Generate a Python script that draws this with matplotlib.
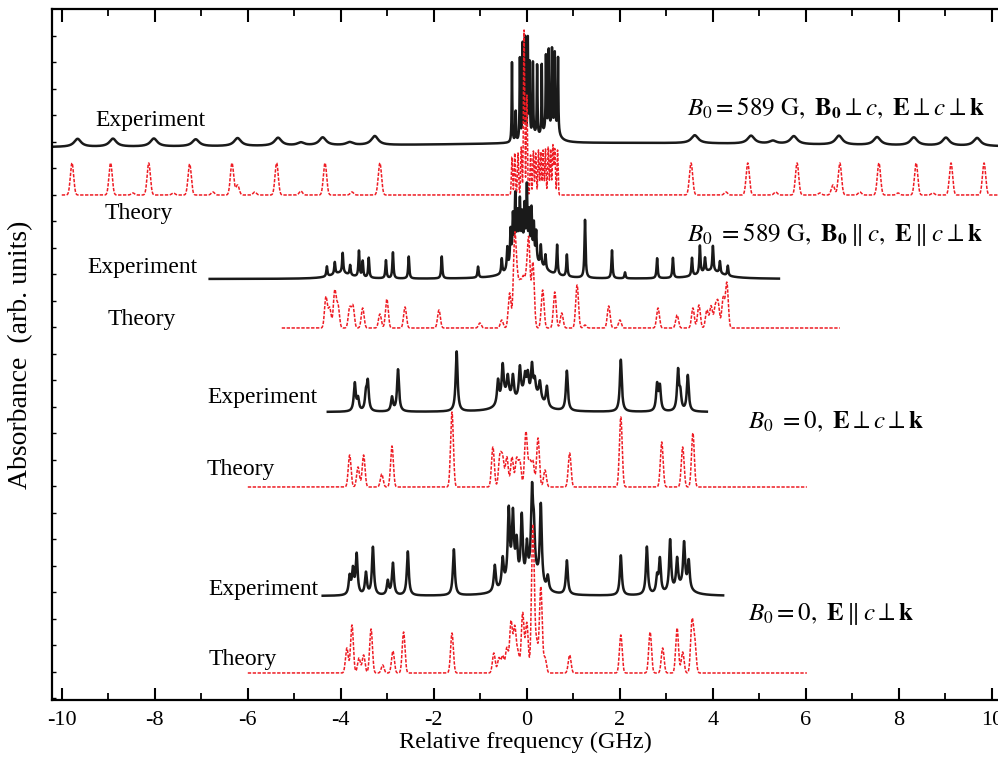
import numpy as np
import matplotlib
matplotlib.use("Agg")
import matplotlib.pyplot as plt

plt.rcParams['font.family'] = ['Liberation Serif', 'DejaVu Serif']
plt.rcParams['mathtext.fontset'] = 'stix'

# peak positions (GHz) and heights (arb.)
# B0 = 589 G, perpendicular
exp1_pos = [-9.66, -8.90, -8.02, -7.12, -6.22, -5.35, -4.86, -4.39, -3.81, -3.27,
            3.61, 4.82, 5.29, 5.74, 6.71, 7.53, 8.32, 9.01, 9.68]
exp1_amp = [8, 8, 8, 7, 8, 8, 3, 8, 3, 9,
            8, 8, 3, 8, 9, 8, 8, 8, 8]
exp1_core_pos = [-0.32, -0.24, -0.15, -0.09, -0.04, 0.02, 0.06, 0.13, 0.22, 0.32,
                 0.41, 0.47, 0.54, 0.60, 0.67]
exp1_core_amp = [80, 30, 82, 95, 100, 98, 72, 72, 70, 70, 74, 78, 80, 74, 74]
exp1_broad_pos = [2.0, 0.15, 0.45, 0.62]
exp1_broad_amp = [5, 6, 11, 11]
exp1_broad_wid = [6.0, 0.12, 0.12, 0.08]

th1_pos = [-9.78, -8.95, -8.47, -8.13, -7.60, -7.25, -6.75, -6.34, -6.22, -5.85,
           -5.38, -4.86, -4.34, -3.76, -3.16,
           3.53, 4.28, 4.75, 5.35, 5.81, 6.30, 6.58, 6.73, 7.16, 7.57, 7.98, 8.37,
           8.73, 9.12, 9.83]
th1_amp = [32, 32, 2, 32, 2, 31, 3, 32, 10, 3, 32, 4, 32, 3, 32,
           32, 3, 32, 3, 32, 2, 10, 32, 3, 32, 2, 32, 2, 32, 32]
th1_core_pos = [-0.32, -0.26, -0.19, -0.12, -0.06, 0.0, 0.08, 0.14, 0.19, 0.25,
                0.30, 0.35, 0.40, 0.46, 0.51, 0.56, 0.60, 0.66]
th1_core_amp = [38, 42, 42, 48, 165, 100, 40, 44, 42, 45, 43, 45, 46, 48, 46, 50, 46, 45]

# B0 = 589 G, parallel
exp2_pos = [-4.30, -4.13, -3.96, -3.80, -3.61, -3.53, -3.40, -3.03, -2.88, -2.54,
            -1.83, -1.05, -0.54, -0.42, -0.35, -0.30, -0.25, -0.20, -0.15, -0.10,
            -0.05, 0.0, 0.05, 0.10, 0.15, 0.20, 0.30, 0.40, 0.65, 0.86, 1.25,
            1.83, 2.11, 2.80, 3.14, 3.55, 3.72, 3.83, 4.00, 4.15, 4.32]
exp2_amp = [10, 12, 20, 10, 26, 16, 20, 18, 26, 22,
            22, 11, 15, 22, 35, 45, 62, 40, 52, 38,
            48, 70, 45, 50, 36, 30, 20, 14, 30, 22, 58,
            28, 6, 20, 20, 18, 28, 14, 25, 12, 10]
exp2_broad_pos = [-4.0, -0.15, 0.25, 3.95]
exp2_broad_amp = [6, 18, 10, 8]
exp2_broad_wid = [0.25, 0.2, 0.25, 0.3]

th2_pos = [-4.32, -4.24, -4.13, -4.06, -3.81, -3.74, -3.53, -3.16, -3.01, -2.62,
           -1.89, -1.01, -0.54, -0.37, -0.26, -0.20, -0.14, -0.08, -0.02, 0.04,
           0.13, 0.34, 0.60, 0.75, 1.08, 1.25, 1.76, 2.00, 2.82, 3.23, 3.57,
           3.70, 3.87, 3.96, 4.05, 4.11, 4.22, 4.30]
th2_amp = [31, 20, 37, 22, 20, 22, 20, 14, 29, 21,
           18, 5, 8, 35, 90, 40, 38, 42, 40, 85,
           65, 38, 36, 15, 43, 3, 22, 8, 20, 13, 20,
           23, 18, 22, 20, 25, 30, 45]

# B0 = 0, E perpendicular
exp3_pos = [-3.70, -3.63, -3.46, -3.42, -2.90, -2.77, -1.51, -0.62, -0.52, -0.41,
            -0.30, -0.15, -0.04, 0.02, 0.11, 0.17, 0.28, 0.43, 0.86, 2.02,
            2.80, 2.86, 3.25, 3.30, 3.46]
exp3_amp = [28, 12, 16, 28, 14, 42, 60, 24, 34, 20,
            24, 30, 18, 20, 32, 16, 16, 20, 40, 52,
            26, 24, 40, 16, 36]
exp3_broad_pos = [-0.45, -0.05, 0.25]
exp3_broad_amp = [12, 14, 10]
exp3_broad_wid = [0.15, 0.18, 0.12]

th3_pos = [-3.81, -3.63, -3.51, -3.12, -2.90, -1.61, -0.73, -0.58, -0.52, -0.43,
           -0.32, -0.22, -0.15, -0.02, 0.06, 0.13, 0.24, 0.39, 0.92, 2.02,
           2.90, 3.35, 3.57]
th3_amp = [32, 20, 32, 13, 41, 75, 40, 30, 28, 30,
           30, 28, 25, 55, 25, 25, 49, 17, 34, 70,
           45, 40, 54]

# B0 = 0, E parallel
exp4_pos = [-3.81, -3.74, -3.66, -3.46, -3.31, -2.99, -2.88, -2.56, -1.57, -0.69,
            -0.52, -0.39, -0.30, -0.22, -0.11, 0.0, 0.11, 0.15, 0.30, 0.45,
            0.86, 2.02, 2.58, 2.80, 2.86, 3.08, 3.23, 3.38, 3.48]
exp4_amp = [18, 24, 40, 22, 48, 14, 32, 44, 46, 26,
            28, 70, 62, 35, 65, 35, 80, 40, 80, 14,
            34, 40, 48, 16, 34, 52, 30, 44, 28]
exp4_broad_pos = [-0.3, 0.15, 3.35]
exp4_broad_amp = [14, 16, 8]
exp4_broad_wid = [0.2, 0.15, 0.2]

th4_pos = [-3.87, -3.76, -3.61, -3.51, -3.35, -3.10, -2.88, -2.65, -1.61, -0.71,
           -0.60, -0.52, -0.43, -0.34, -0.26, -0.19, -0.09, 0.0, 0.13, 0.21,
           0.30, 0.39, 0.92, 2.02, 2.65, 2.92, 3.23, 3.35, 3.55, 3.61]
th4_amp = [25, 48, 15, 18, 44, 8, 22, 41, 40, 20,
           15, 17, 25, 51, 45, 20, 60, 50, 148, 30,
           86, 15, 18, 38, 41, 25, 45, 21, 50, 30]

labels_exp = ["Experiment"] * 4
labels_th = ["Theory"] * 4
conditions = [
    r"$B_0 = 589\ \mathrm{G},\ \mathbf{B_0} \perp c,\ \mathbf{E} \perp c \perp \mathbf{k}$",
    r"$B_0\ = 589\ \mathrm{G},\ \mathbf{B_0} \parallel c,\ \mathbf{E} \parallel c \perp \mathbf{k}$",
    r"$B_0\ = 0,\ \mathbf{E} \perp c \perp \mathbf{k}$",
    r"$B_0 = 0,\ \mathbf{E} \parallel c \perp \mathbf{k}$",
]


def lorentz(x, pos, amp, wid):
    y = np.zeros_like(x)
    for p, a in zip(pos, amp):
        y += a / (1 + ((x - p) / wid) ** 2)
    return y


def lorentz_w(x, pos, amp, wids):
    y = np.zeros_like(x)
    for p, a, w in zip(pos, amp, wids):
        y += a / (1 + ((x - p) / w) ** 2)
    return y


def gauss(x, pos, amp, wid):
    y = np.zeros_like(x)
    for p, a in zip(pos, amp):
        y += a * np.exp(-0.5 * ((x - p) / wid) ** 2)
    return y


fig = plt.figure(figsize=(9.98, 7.67), dpi=100)
ax = fig.add_axes([52 / 998, 1 - 700 / 767, 946 / 998, 691 / 767])

black = '#1a1a1a'
red = '#ee1c24'
dash = (0, (2.2, 1.0))

# experiment 1 (full range)
x = np.linspace(-10.25, 10.2, 24000)
y = (lorentz(x, exp1_pos, exp1_amp, 0.09) + lorentz(x, exp1_core_pos, exp1_core_amp, 0.008)
     + lorentz_w(x, exp1_broad_pos, exp1_broad_amp, exp1_broad_wid))
ax.plot(x, 552 + y, color=black, lw=1.8)

x = np.linspace(-10.0, 10.2, 24000)
y = gauss(x, th1_pos, th1_amp, 0.035) + gauss(x, th1_core_pos, th1_core_amp, 0.013)
ax.plot(x, 505 + y, color=red, lw=1.1, ls=dash)

x = np.linspace(-6.82, 5.42, 12000)
y = lorentz(x, exp2_pos, exp2_amp, 0.014) + lorentz_w(x, exp2_broad_pos, exp2_broad_amp, exp2_broad_wid)
ax.plot(x, 421 + y, color=black, lw=1.8)

x = np.linspace(-5.27, 6.73, 12000)
y = gauss(x, th2_pos, th2_amp, 0.03)
ax.plot(x, 372 + y, color=red, lw=1.1, ls=dash)

x = np.linspace(-4.28, 3.87, 9000)
y = lorentz(x, exp3_pos, exp3_amp, 0.025) + lorentz_w(x, exp3_broad_pos, exp3_broad_amp, exp3_broad_wid)
ax.plot(x, 288 + y, color=black, lw=1.8)

x = np.linspace(-6.0, 6.02, 12000)
y = gauss(x, th3_pos, th3_amp, 0.03)
ax.plot(x, 213 + y, color=red, lw=1.1, ls=dash)

x = np.linspace(-4.39, 4.22, 9000)
y = lorentz(x, exp4_pos, exp4_amp, 0.025) + lorentz_w(x, exp4_broad_pos, exp4_broad_amp, exp4_broad_wid)
ax.plot(x, 104 + y, color=black, lw=1.8)

x = np.linspace(-6.0, 6.02, 12000)
y = gauss(x, th4_pos, th4_amp, 0.03)
ax.plot(x, 27 + y, color=red, lw=1.1, ls=dash)

# labels
fs = 17
exp_xy = [(-9.27, 580), (-9.44, 433), (-6.88, 302), (-6.84, 110)]
th_xy = [(-9.08, 486), (-9.01, 380), (-6.88, 231), (-6.84, 40)]
for (tx, ty), s in zip(exp_xy, labels_exp):
    ax.text(tx, ty, s, fontsize=fs, ha='left', va='center')
for (tx, ty), s in zip(th_xy, labels_th):
    ax.text(tx, ty, s, fontsize=fs, ha='left', va='center')

ax.text(9.85, 592, conditions[0], fontsize=18, ha='right', va='center')
ax.text(3.45, 465, conditions[1], fontsize=18, ha='left', va='center')
ax.text(4.75, 278, conditions[2], fontsize=18, ha='left', va='center')
ax.text(4.75, 86, conditions[3], fontsize=18, ha='left', va='center')

ax.set_xlim(-10.21, 10.13)
ax.set_ylim(0, 691)
ax.set_xticks(np.arange(-10, 11, 2))
ax.set_xticks(np.arange(-9, 10, 2), minor=True)
ax.set_xticklabels([str(v) for v in range(-10, 11, 2)])
ax.set_yticks(np.arange(691 - 26.5, 0, -26.5))
ax.set_yticklabels([])
ax.tick_params(axis='x', which='major', direction='in', length=9, width=1.5,
               top=True, labelsize=16, pad=8)
ax.tick_params(axis='x', which='minor', direction='in', length=5, width=1.3, top=True)
ax.tick_params(axis='y', which='major', direction='in', length=3, width=1.0,
               left=True, right=False)
for sp in ax.spines.values():
    sp.set_linewidth(1.6)
ax.spines['right'].set_visible(False)

ax.set_xlabel("Relative frequency (GHz)", fontsize=17.5, labelpad=1)
ax.set_ylabel("Absorbance  (arb. units)", fontsize=20, labelpad=10)

fig.savefig("out.png", dpi=100)
